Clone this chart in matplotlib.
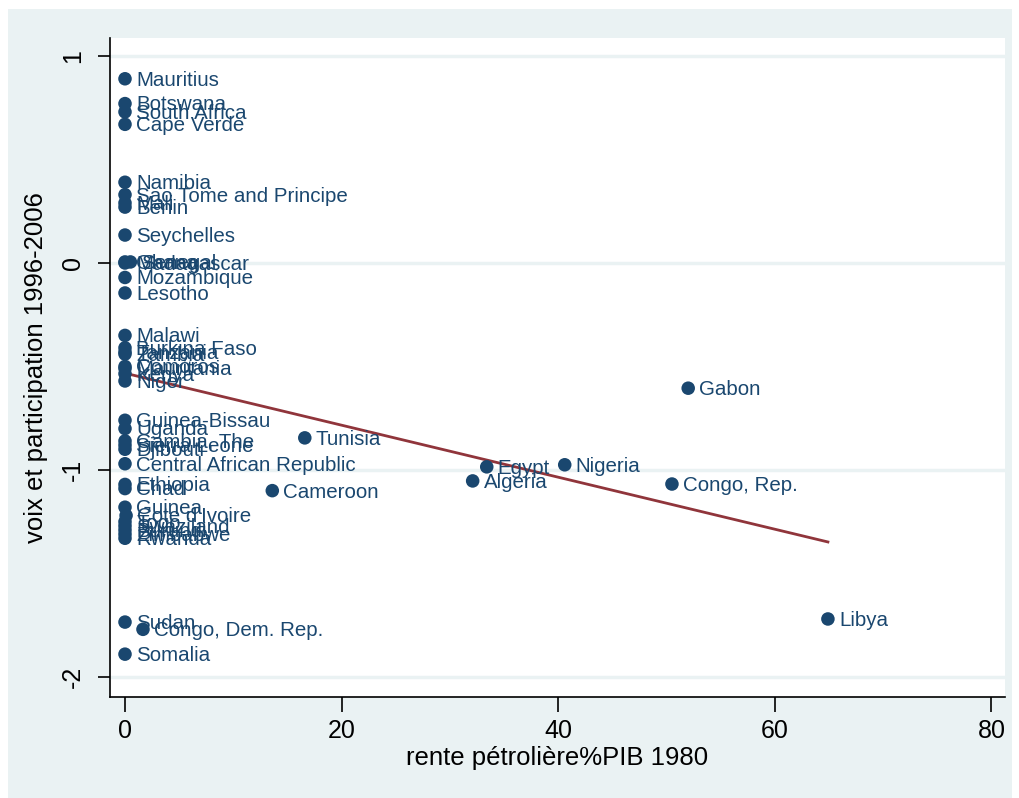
import matplotlib.pyplot as plt
import matplotlib.patches as mpatches
import numpy as np

# oil rent (% of GDP, 1980) vs voice & accountability 1996-2006
countries = [
    "Mauritius", "Botswana", "South Africa", "Cape Verde",
    "Namibia", "Sao Tome and Principe", "Mali", "Benin",
    "Seychelles", "Ghana", "Senegal", "Madagascar", "Mozambique", "Lesotho",
    "Malawi", "Burkina Faso", "Tanzania", "Zambia", "Comoros", "Mauritania",
    "Kenya", "Niger",
    "Guinea-Bissau", "Uganda", "Gambia, The", "Sierra Leone", "Djibouti",
    "Central African Republic", "Ethiopia", "Chad",
    "Guinea", "Cote d'Ivoire", "Togo", "Swaziland", "Burundi", "Zimbabwe",
    "Rwanda",
    "Sudan", "Congo, Dem. Rep.", "Somalia",
    "Gabon", "Tunisia", "Egypt", "Nigeria", "Algeria", "Congo, Rep.",
    "Cameroon", "Libya",
]
oil_rent = [
    0.0, 0.0, 0.0, 0.0,
    0.0, 0.0, 0.0, 0.0,
    0.0, 0.0, 0.5, 0.0, 0.0, 0.0,
    0.0, 0.0, 0.0, 0.0, 0.0, 0.0,
    0.0, 0.0,
    0.0, 0.0, 0.0, 0.0, 0.0,
    0.0, 0.0, 0.0,
    0.0, 0.1, 0.0, 0.0, 0.0, 0.0,
    0.0,
    0.0, 1.66, 0.0,
    52.0, 16.6, 33.4, 40.6, 32.1, 50.5,
    13.6, 64.9,
]
voice = [
    0.89, 0.77, 0.73, 0.67,
    0.39, 0.33, 0.29, 0.27,
    0.135, 0.005, 0.005, 0.0, -0.07, -0.145,
    -0.35, -0.41, -0.43, -0.44, -0.50, -0.51,
    -0.535, -0.57,
    -0.76, -0.80, -0.86, -0.88, -0.90,
    -0.97, -1.07, -1.09,
    -1.18, -1.22, -1.25, -1.27, -1.29, -1.31,
    -1.33,
    -1.735, -1.77, -1.89,
    -0.605, -0.845, -0.985, -0.975, -1.053, -1.068,
    -1.10, -1.72,
]

NAVY = "#1a476f"
MAROON = "#90353b"
BG = "#eaf2f3"
FONT = ["Liberation Sans", "DejaVu Sans"]

plt.rcParams["font.family"] = FONT

fig = plt.figure(figsize=(10.19, 7.98), dpi=100)
fig.patch.set_facecolor("white")
fig.patches.append(mpatches.Rectangle((8 / 1019, 0), 1004 / 1019, 789 / 798,
                                      transform=fig.transFigure,
                                      facecolor=BG, edgecolor="none", zorder=-5))

ax = fig.add_axes([110 / 1019, 101 / 798, 895 / 1019, 659 / 798])
ax.set_facecolor("white")

x = np.array(oil_rent)
y = np.array(voice)

# linear fit over the data range
slope, intercept = np.polyfit(x, y, 1)
xf = np.array([x.min(), x.max()])
ax.plot(xf, intercept + slope * xf, color=MAROON, lw=2, zorder=3)

ax.scatter(x, y, s=95, color=NAVY, edgecolors="none", zorder=4)
for name, xi, yi in zip(countries, x, y):
    ax.annotate(name, (xi, yi), xytext=(8, -1), textcoords="offset points",
                ha="left", va="center", fontsize=14.8, color=NAVY, zorder=5)

ax.set_xlim(-1.385, 81.25)
ax.set_ylim(-2.097, 1.087)
ax.set_xticks([0, 20, 40, 60, 80])
ax.set_yticks([-2, -1, 0, 1])
ax.set_yticklabels(["-2", "-1", "0", "1"], rotation=90, va="center")
ax.grid(axis="y", color=BG, lw=2.5, zorder=0)
ax.set_axisbelow(True)

for side in ("top", "right"):
    ax.spines[side].set_visible(False)
for side in ("left", "bottom"):
    ax.spines[side].set_linewidth(1.2)

ax.tick_params(axis="x", length=11, width=1.2, pad=5, labelsize=18)
ax.tick_params(axis="y", length=9, width=1.2, pad=9, labelsize=18)

ax.set_xlabel("rente pétrolière%PIB 1980", fontsize=18.5, labelpad=2)
ax.set_ylabel("voix et participation 1996-2006", fontsize=18.5, labelpad=9)

fig.savefig("out.png", dpi=100, facecolor=fig.get_facecolor())
